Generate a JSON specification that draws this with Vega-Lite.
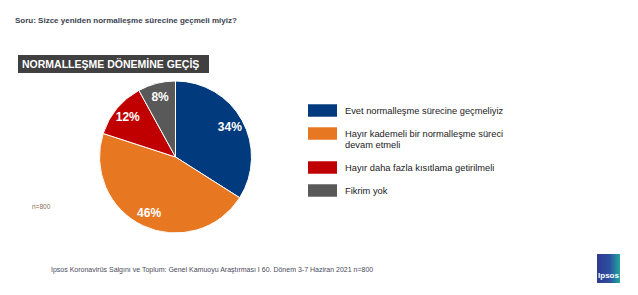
{
  "$schema": "https://vega.github.io/schema/vega-lite/v6.json",
  "width": 638,
  "height": 295,
  "autosize": {"type": "fit", "contains": "padding"},
  "padding": 0,
  "background": "white",
  "config": {"view": {"stroke": null}, "font": "Liberation Sans"},
  "datasets": {
    "pie": [
      {"cat": "Evet normalleşme sürecine geçmeliyiz", "value": 34, "ord": 1, "label": "34%"},
      {"cat": "Hayır kademeli bir normalleşme süreci devam etmeli", "value": 46, "ord": 2, "label": "46%"},
      {"cat": "Hayır daha  fazla kısıtlama getirilmeli", "value": 12, "ord": 3, "label": "12%"},
      {"cat": "Fikrim yok", "value": 8, "ord": 4, "label": "8%"}
    ],
    "one": [{"q": "Soru: Sizce  yeniden  normalleşme  sürecine  geçmeli  miyiz?", "t": "NORMALLEŞME DÖNEMİNE  GEÇİŞ", "n": "n=800", "f": "Ipsos  Koronavirüs  Salgını ve Toplum: Genel  Kamuoyu Araştırması I  60. Dönem 3-7 Haziran  2021   n=800", "logo": "Ipsos"}]
  },
  "layer": [
    {
      "data": {"name": "pie"},
      "mark": {"type": "arc", "x": 175.5, "y": 157, "outerRadius": 76, "stroke": "white", "strokeWidth": 1},
      "encoding": {
        "theta": {"field": "value", "type": "quantitative", "stack": true},
        "order": {"field": "ord", "type": "quantitative"},
        "color": {
          "field": "cat", "type": "nominal",
          "scale": {
            "domain": ["Evet normalleşme sürecine geçmeliyiz", "Hayır kademeli bir normalleşme süreci devam etmeli", "Hayır daha  fazla kısıtlama getirilmeli", "Fikrim yok"],
            "range": ["#023A7E", "#E87722", "#C00000", "#595959"]
          },
          "legend": {
            "title": null,
            "orient": "none",
            "legendX": 308,
            "legendY": 96,
            "padding": 0,
            "symbolType": "M-1,-0.43H1V0.43H-1Z",
            "symbolSize": 841,
            "symbolStrokeWidth": 0,
            "symbolOpacity": 1,
            "labelOffset": 8,
            "labelFont": "Liberation Sans",
            "labelFontSize": 9.3,
            "labelColor": "#1a1a1a",
            "labelLimit": 300,
            "rowPadding": 2,
            "labelExpr": "datum.label == 'Hayır kademeli bir normalleşme süreci devam etmeli' ? ['Hayır kademeli bir normalleşme süreci', 'devam etmeli'] : datum.label"
          }
        }
      }
    },
    {
      "data": {"name": "pie"},
      "mark": {"type": "text", "x": 175.5, "y": 157, "radius": 62, "fontWeight": "bold", "fontSize": 12, "fill": "white", "font": "Liberation Sans"},
      "encoding": {
        "theta": {"field": "value", "type": "quantitative", "stack": true},
        "order": {"field": "ord", "type": "quantitative"},
        "text": {"field": "label"}
      }
    },
    {
      "data": {"name": "one"},
      "mark": {"type": "text", "x": 15, "y": 21, "align": "left", "baseline": "middle", "fontSize": 8, "fontWeight": "bold", "fill": "#3b4250"},
      "encoding": {"text": {"field": "q"}}
    },
    {
      "data": {"name": "one"},
      "mark": {"type": "rect", "x": 18, "x2": 209, "y": 55, "y2": 73, "fill": "#404040"},
      "encoding": {}
    },
    {
      "data": {"name": "one"},
      "mark": {"type": "text", "x": 22, "y": 64.5, "align": "left", "baseline": "middle", "fontSize": 10.5, "fontWeight": "bold", "fill": "white"},
      "encoding": {"text": {"field": "t"}}
    },
    {
      "data": {"name": "one"},
      "mark": {"type": "text", "x": 32, "y": 207, "align": "left", "baseline": "middle", "fontSize": 6.5, "fill": "#8a6a50"},
      "encoding": {"text": {"field": "n"}}
    },
    {
      "data": {"name": "one"},
      "mark": {"type": "text", "x": 51, "y": 270, "align": "left", "baseline": "middle", "fontSize": 7, "fill": "#4a4a5a"},
      "encoding": {"text": {"field": "f"}}
    },
    {
      "data": {"name": "one"},
      "mark": {"type": "rect", "x": 597, "x2": 620, "y": 254, "y2": 283,
        "fill": {"gradient": "linear", "x1": 0, "y1": 0, "x2": 1, "y2": 0, "stops": [{"offset": 0, "color": "#2E3A8F"}, {"offset": 0.55, "color": "#2E4FA0"}, {"offset": 1, "color": "#1FA8A0"}]}},
      "encoding": {}
    },
    {
      "data": {"name": "one"},
      "mark": {"type": "text", "x": 608.5, "y": 276, "align": "center", "baseline": "middle", "fontSize": 8, "fontWeight": "bold", "fill": "white"},
      "encoding": {"text": {"field": "logo"}}
    }
  ]
}
